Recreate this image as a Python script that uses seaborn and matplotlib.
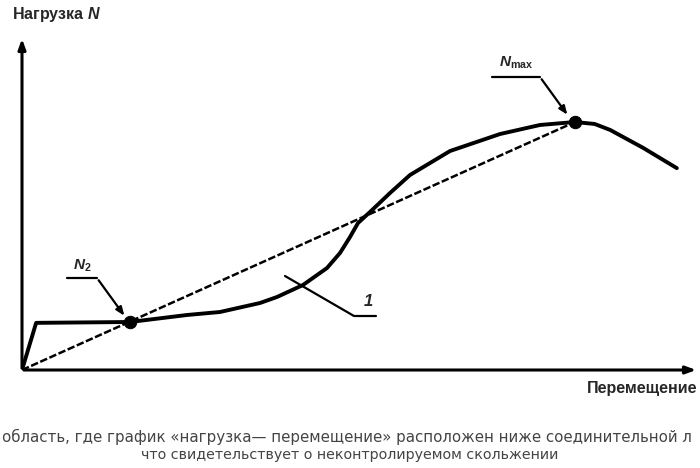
import matplotlib
matplotlib.use("Agg")
import matplotlib.pyplot as plt
import seaborn as sns
import pandas as pd

# ---- data (arbitrary units, origin at axis crossing) ----
curve_x = [0.0, 2.1, 16.05, 24.52, 29.42, 35.36, 37.89, 41.75, 45.32, 47.25, 48.74,
           49.93, 51.71, 54.68, 57.65, 63.60, 71.03, 76.97, 82.17, 85.1, 87.4, 92.3, 97.3]
curve_y = [0.0, 14.2, 14.46, 16.57, 17.47, 20.18, 21.99, 25.60, 30.72, 35.24, 40.06,
           44.28, 47.59, 53.31, 58.73, 65.96, 71.08, 73.80, 74.70, 74.1, 72.3, 66.9, 60.8]
secant_x = [0.0, 82.17]
secant_y = [0.0, 74.70]
point_names = ["N2", "Nmax"]
point_x = [16.05, 82.17]
point_y = [14.46, 74.70]

y_label = "Нагрузка $N$"
x_label = "Перемещение"
point_labels = ["$N_2$", "$N_{\\mathrm{max}}$"]
region_label = "1"
caption1 = "область, где график «нагрузка— перемещение» расположен ниже соединительной л"
caption2 = "что свидетельствует о неконтролируемом скольжении"

sns.set_theme(style="white")
plt.rcParams["font.family"] = ["Liberation Sans", "DejaVu Sans"]
plt.rcParams["mathtext.fontset"] = "custom"
plt.rcParams["mathtext.it"] = "Liberation Sans:italic:bold"
plt.rcParams["mathtext.rm"] = "Liberation Sans:bold"
plt.rcParams["mathtext.bf"] = "Liberation Sans:bold"

W, H = 700, 468
fig = plt.figure(figsize=(7, 4.68), dpi=100)
ox, oy = 22, 370
ax = fig.add_axes([ox / W, (H - oy) / H, 673 / W, 332 / H])
ax.set_xlim(0, 673 / 6.73)
ax.set_ylim(0, 332 / 3.32)
ax.axis("off")

curve = pd.DataFrame({"x": curve_x, "y": curve_y})
sec = pd.DataFrame({"x": secant_x, "y": secant_y})
pts = pd.DataFrame({"x": point_x, "y": point_y, "name": point_names})

sns.lineplot(data=sec, x="x", y="y", ax=ax, color="black", lw=1.8,
             linestyle=(0, (3, 1.0)), sort=False, estimator=None)
sns.lineplot(data=curve, x="x", y="y", ax=ax, color="black", lw=2.8,
             sort=False, estimator=None, solid_capstyle="round",
             solid_joinstyle="round")
sns.scatterplot(data=pts, x="x", y="y", ax=ax, color="black", s=80,
                edgecolor="black", zorder=5, legend=False)

def fpx(x, y):
    return (x / W, 1 - y / H)

fig.add_artist(matplotlib.patches.FancyArrowPatch(
    fpx(22, 371), fpx(22, 36), transform=fig.transFigure,
    arrowstyle="-|>,head_length=6,head_width=2.2", lw=2.2, color="black"))
fig.add_artist(matplotlib.patches.FancyArrowPatch(
    fpx(21, 370), fpx(699, 370), transform=fig.transFigure,
    arrowstyle="-|>,head_length=6,head_width=2.2", lw=2.2, color="black"))

fig.text(*fpx(12, 15), y_label, fontsize=11.5, fontweight="bold", va="center", ha="left")
fig.text(*fpx(697, 388), x_label, fontsize=11.5, fontweight="bold", va="center", ha="right")

def leader(text_xy, ul, tip, label, tsize=11):
    x1, x2, yy = ul
    fig.add_artist(plt.Line2D([x1 / W, x2 / W], [1 - yy / H, 1 - yy / H],
                              transform=fig.transFigure, color="black", lw=1.6))
    fig.add_artist(matplotlib.patches.FancyArrowPatch(
        fpx(x2, yy), fpx(*tip), transform=fig.transFigure,
        arrowstyle="-|>,head_length=5,head_width=2", lw=1.6, color="black"))
    fig.text(*fpx(*text_xy), label, fontsize=tsize, va="center", ha="center")

leader((82, 266), (67, 97, 278), (126, 318), point_labels[0])
leader((516, 63), (492, 540, 77), (569, 117), point_labels[1])

fig.add_artist(plt.Line2D([285 / W, 354 / W, 376 / W],
                          [1 - 276 / H, 1 - 316 / H, 1 - 316 / H],
                          transform=fig.transFigure, color="black", lw=1.6))
fig.text(*fpx(368, 302), region_label, fontsize=12, fontweight="bold",
         style="italic", va="center", ha="center")

fig.text(*fpx(2, 437), caption1, fontsize=10.8, color="#444444",
         family="DejaVu Sans", va="center", ha="left")
fig.text(*fpx(350, 455), caption2, fontsize=10.3, color="#444444",
         family="DejaVu Sans", va="center", ha="center")

fig.savefig("out.png", dpi=100)
